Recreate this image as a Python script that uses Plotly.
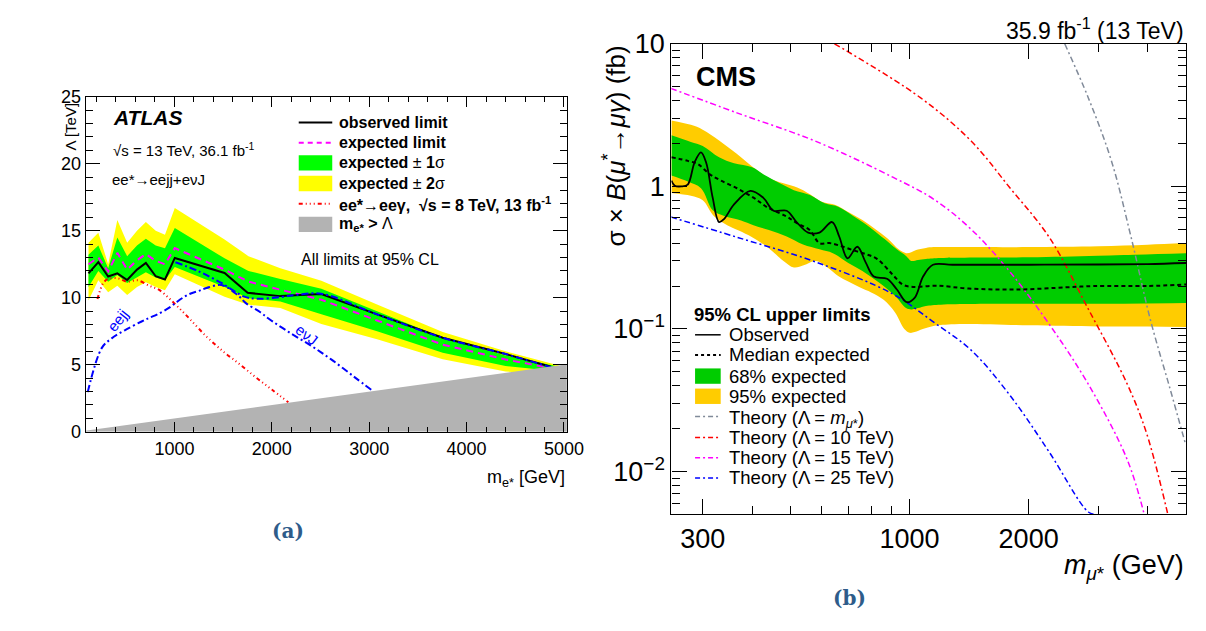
import plotly.graph_objects as go

W, H = 1206, 631
def px(x): return x / W
def py(y): return 1 - y / H

# ---------------- Left panel (ATLAS e*) ----------------
atl_obs_x = [118, 219, 320, 414, 515, 616, 707, 808, 903, 1004, 1515, 1752, 2088, 2509, 3081, 3755, 4400, 4866]
atl_obs_y = [11.82, 12.66, 11.58, 11.82, 11.32, 12.1, 12.6, 11.6, 11.36, 12.97, 11.85, 10.37, 10.12, 10.27, 8.76, 7.02, 5.8, 4.85]
atl_exp_x = [118, 219, 320, 414, 515, 616, 707, 808, 903, 1004, 1515, 1760, 2088, 2509, 3081, 3755, 4400, 4900]
atl_exp_y = [12.5, 13.0, 11.95, 13.35, 12.1, 12.8, 13.25, 12.75, 12.5, 13.7, 12.1, 11.2, 10.6, 9.85, 8.3, 6.5, 5.4, 4.7]
atl_band_x = [118, 219, 320, 414, 515, 616, 707, 808, 903, 1004, 1515, 1760, 2088, 2509, 3081, 3755, 4400, 4950]
atl_2s_up = [14.1, 14.85, 12.5, 15.8, 14.1, 15.0, 15.65, 15.0, 14.7, 16.7, 14.35, 13.1, 12.2, 11.27, 9.5, 7.45, 6.0, 4.95]
atl_1s_up = [13.2, 13.9, 12.2, 14.5, 13.1, 13.9, 14.4, 13.9, 13.7, 15.2, 12.94, 12.0, 11.4, 10.67, 9.0, 7.02, 5.7, 4.85]
atl_1s_lo = [10.8, 12.0, 11.2, 11.7, 11.1, 11.5, 11.9, 11.5, 11.3, 12.3, 10.8, 9.96, 9.72, 8.76, 7.5, 5.9, 4.9, 4.5]
atl_2s_lo = [9.8, 11.3, 10.4, 10.9, 10.2, 10.8, 11.15, 10.8, 10.55, 11.75, 10.08, 9.48, 9.24, 8.04, 6.9, 5.42, 4.5, 4.25]
atl_8tev_x = [210, 270, 320, 420, 510, 620, 740, 840, 940, 1010, 1080, 1160, 1330, 1500, 1660, 1830, 2000, 2170]
atl_8tev_y = [9.9, 11.1, 11.4, 11.45, 11.2, 11.3, 10.9, 10.6, 10.0, 9.5, 9.0, 8.4, 7.1, 6.0, 5.1, 4.1, 3.15, 2.2]
atl_eejj_x = [110, 255, 356, 490, 658, 741, 826, 943, 1010, 1078, 1161, 1246, 1329, 1482, 1650, 1734, 1886, 1966, 2172, 2408, 2610, 2846, 3040]
atl_eejj_y = [2.96, 6.26, 6.97, 7.57, 8.21, 8.5, 8.76, 9.24, 9.6, 9.96, 10.3, 10.5, 10.72, 10.95, 10.2, 9.6, 8.9, 8.45, 7.45, 6.4, 5.4, 4.1, 3.03]
atl_evj_x = [1010, 1246, 1482, 1717, 1852, 2088, 2250, 2509, 3081, 3755, 4400, 4866]
atl_evj_y = [12.65, 11.98, 11.1, 10.08, 9.92, 10.05, 10.2, 10.3, 8.76, 7.02, 5.8, 4.82]
atl_excl_x = [0, 5030, 5030]
atl_excl_y = [0, 5.03, 0]
atl_xticks = [1000, 2000, 3000, 4000, 5000]
atl_yticks = [0, 5, 10, 15, 20, 25]

# ---------------- Right panel (CMS mu*) ----------------
cms_obs_x = [250, 255, 265, 275, 286, 297, 306, 318, 330, 340, 360, 396, 427, 453, 489, 518, 554, 592, 637, 664, 697, 738, 774, 812, 877, 929, 984, 1031, 1082, 1146, 1285, 2000, 3000, 4000, 5000]
cms_obs_y = [1.10, 1.01, 1.0, 1.03, 1.47, 1.73, 1.47, 0.83, 0.562, 0.592, 0.748, 0.93, 0.83, 0.675, 0.675, 0.562, 0.474, 0.474, 0.562, 0.445, 0.313, 0.377, 0.294, 0.233, 0.225, 0.189, 0.154, 0.166, 0.233, 0.282, 0.282, 0.282, 0.283, 0.285, 0.29]
cms_exp_x = [250, 275, 292, 312, 333, 366, 404, 438, 489, 518, 559, 592, 627, 664, 717, 774, 827, 908, 960, 1021, 1168, 1412, 1882, 2507, 2931, 4000, 5000]
cms_exp_y = [1.60, 1.51, 1.43, 1.22, 1.10, 0.97, 0.83, 0.71, 0.614, 0.554, 0.494, 0.40, 0.40, 0.385, 0.358, 0.335, 0.31, 0.239, 0.205, 0.197, 0.201, 0.192, 0.189, 0.196, 0.20, 0.20, 0.205]
cms_2s_up_x = [250, 280, 300, 330, 365, 400, 440, 480, 520, 560, 600, 650, 700, 760, 820, 880, 940, 980, 1010, 1050, 1100, 1150, 1300, 2000, 3000, 4000, 5000]
cms_2s_up_y = [2.9, 2.7, 2.5, 2.1, 1.7, 1.38, 1.15, 1.05, 0.98, 0.88, 0.78, 0.74, 0.66, 0.58, 0.5, 0.43, 0.36, 0.34, 0.345, 0.36, 0.37, 0.375, 0.375, 0.375, 0.38, 0.39, 0.4]
cms_2s_lo_x = [250, 280, 300, 320, 340, 370, 400, 440, 480, 510, 540, 580, 620, 660, 700, 750, 800, 860, 920, 970, 1000, 1030, 1080, 1150, 1300, 2000, 3000, 4000, 5000]
cms_2s_lo_y = [0.90, 0.86, 0.80, 0.62, 0.55, 0.49, 0.44, 0.37, 0.30, 0.27, 0.28, 0.30, 0.27, 0.235, 0.215, 0.195, 0.18, 0.16, 0.13, 0.10, 0.094, 0.095, 0.100, 0.105, 0.108, 0.106, 0.104, 0.104, 0.103]
cms_1s_up_x = [250, 280, 300, 330, 360, 400, 430, 470, 510, 560, 610, 660, 720, 770, 820, 880, 930, 980, 1010, 1050, 1100, 1200, 2000, 3000, 5000]
cms_1s_up_y = [2.28, 2.05, 1.92, 1.6, 1.45, 1.36, 1.2, 1.05, 0.94, 0.87, 0.76, 0.72, 0.62, 0.55, 0.48, 0.41, 0.36, 0.325, 0.30, 0.305, 0.31, 0.315, 0.318, 0.326, 0.34]
cms_1s_lo_x = [250, 275, 297, 318, 340, 375, 403, 441, 489, 538, 592, 640, 700, 760, 820, 880, 930, 980, 1010, 1050, 1100, 1200, 2000, 3000, 5000]
cms_1s_lo_y = [1.19, 1.08, 0.97, 0.68, 0.62, 0.577, 0.534, 0.494, 0.445, 0.391, 0.362, 0.34, 0.29, 0.255, 0.22, 0.19, 0.165, 0.14, 0.137, 0.14, 0.145, 0.148, 0.15, 0.15, 0.152]
th_m_x = [2468, 2830, 3243, 3631, 4066, 4550, 4990]
th_m_y = [10, 4.19, 1.49, 0.44, 0.115, 0.0385, 0.0154]
th_10_x = [646, 1065, 1431, 1797, 2254, 2830, 3551, 3975, 4505]
th_10_y = [10, 4.19, 2.08, 0.97, 0.44, 0.138, 0.041, 0.0185, 0.0049]
th_15_x = [249, 366, 577, 907, 1153, 1431, 1797, 2254, 2830, 3551, 3927]
th_15_y = [4.87, 3.28, 2.08, 1.16, 0.81, 0.50, 0.25, 0.108, 0.041, 0.0121, 0.0049]
th_25_x = [249, 366, 577, 907, 1153, 1431, 1797, 2254, 2830, 2958]
th_25_y = [0.61, 0.44, 0.296, 0.176, 0.111, 0.071, 0.034, 0.0137, 0.0052, 0.005]
cms_xticks = [300, 1000, 2000]
cms_xminor = [400, 500, 600, 700, 800, 900, 3000, 4000, 5000]
cms_yticks = [0.01, 0.1, 1, 10]
cms_yticktext = ["10<sup>\u22122</sup>", "10<sup>\u22121</sup>", "1", "10"]
cms_yminor = [0.006, 0.007, 0.008, 0.009, 0.02, 0.03, 0.04, 0.05, 0.06, 0.07, 0.08, 0.09,
              0.2, 0.3, 0.4, 0.5, 0.6, 0.7, 0.8, 0.9, 2, 3, 4, 5, 6, 7, 8, 9]

GREEN_A, YELLOW_A, GREY = "#00ff00", "#ffff00", "#b3b3b3"
GREEN_C, YELLOW_C = "#00cc00", "#ffcc00"
FONT = "Liberation Sans, Arial, sans-serif"

fig = go.Figure()
L = dict(xaxis="x", yaxis="y", showlegend=False, hoverinfo="skip")
R = dict(xaxis="x2", yaxis="y2", showlegend=False, hoverinfo="skip")

# left bands
fig.add_trace(go.Scatter(x=atl_band_x, y=atl_2s_lo, mode="lines", line=dict(width=0), **L))
fig.add_trace(go.Scatter(x=atl_band_x, y=atl_2s_up, mode="lines", line=dict(width=0), fill="tonexty", fillcolor=YELLOW_A, **L))
fig.add_trace(go.Scatter(x=atl_band_x, y=atl_1s_lo, mode="lines", line=dict(width=0), **L))
fig.add_trace(go.Scatter(x=atl_band_x, y=atl_1s_up, mode="lines", line=dict(width=0), fill="tonexty", fillcolor=GREEN_A, **L))
fig.add_trace(go.Scatter(x=atl_8tev_x, y=atl_8tev_y, mode="lines", line=dict(color="red", width=2, dash="4px,3px,1px,3px,1px,3px,1px,3px", shape="spline"), **L))
fig.add_trace(go.Scatter(x=atl_eejj_x, y=atl_eejj_y, mode="lines", line=dict(color="blue", width=2, dash="7px,3px,2px,3px", shape="spline"), **L))
fig.add_trace(go.Scatter(x=atl_exp_x, y=atl_exp_y, mode="lines", line=dict(color="#ff00ff", width=2, dash="7px,5px"), **L))
fig.add_trace(go.Scatter(x=atl_obs_x, y=atl_obs_y, mode="lines", line=dict(color="black", width=2), **L))
fig.add_trace(go.Scatter(x=atl_evj_x, y=atl_evj_y, mode="lines", line=dict(color="blue", width=2, dash="7px,3px,2px,3px", shape="spline"), **L))
fig.add_trace(go.Scatter(x=atl_excl_x, y=atl_excl_y, mode="lines", line=dict(width=0), fill="toself", fillcolor=GREY, **L))

# right bands
fig.add_trace(go.Scatter(x=cms_2s_lo_x, y=cms_2s_lo_y, mode="lines", line=dict(width=0, shape="spline"), **R))
fig.add_trace(go.Scatter(x=cms_2s_up_x, y=cms_2s_up_y, mode="lines", line=dict(width=0, shape="spline"), fill="tonexty", fillcolor=YELLOW_C, **R))
fig.add_trace(go.Scatter(x=cms_1s_lo_x, y=cms_1s_lo_y, mode="lines", line=dict(width=0, shape="spline"), **R))
fig.add_trace(go.Scatter(x=cms_1s_up_x, y=cms_1s_up_y, mode="lines", line=dict(width=0, shape="spline"), fill="tonexty", fillcolor=GREEN_C, **R))
TH_DASH = "6px,3px,2px,3px"
fig.add_trace(go.Scatter(x=th_m_x, y=th_m_y, mode="lines", line=dict(color="#808a99", width=1.5, dash=TH_DASH, shape="spline"), **R))
fig.add_trace(go.Scatter(x=th_10_x, y=th_10_y, mode="lines", line=dict(color="red", width=1.5, dash=TH_DASH, shape="spline"), **R))
fig.add_trace(go.Scatter(x=th_15_x, y=th_15_y, mode="lines", line=dict(color="#ff00ff", width=1.5, dash=TH_DASH, shape="spline"), **R))
fig.add_trace(go.Scatter(x=th_25_x, y=th_25_y, mode="lines", line=dict(color="blue", width=1.5, dash=TH_DASH, shape="spline"), **R))
fig.add_trace(go.Scatter(x=cms_exp_x, y=cms_exp_y, mode="lines", line=dict(color="black", width=2, dash="4px,3px", shape="spline"), **R))
fig.add_trace(go.Scatter(x=cms_obs_x, y=cms_obs_y, mode="lines", line=dict(color="black", width=1.8, shape="spline"), **R))

ax_common = dict(showline=True, linecolor="black", linewidth=1.2, mirror="ticks", ticks="inside",
                 tickcolor="black", showgrid=False, zeroline=False)

shapes, annos = [], []
def txt(x, y, s, size, xanchor="left", yanchor="middle", color="black", angle=0, family=FONT):
    annos.append(dict(xref="paper", yref="paper", x=px(x), y=py(y), text=s, showarrow=False,
                      xanchor=xanchor, yanchor=yanchor, textangle=angle,
                      font=dict(size=size, color=color, family=family)))
def hline(x0, x1, y, color, dash="solid", width=2):
    shapes.append(dict(type="line", xref="paper", yref="paper", x0=px(x0), x1=px(x1), y0=py(y), y1=py(y),
                       line=dict(color=color, width=width, dash=dash)))
def box(x0, x1, y0, y1, color):
    shapes.append(dict(type="rect", xref="paper", yref="paper", x0=px(x0), x1=px(x1), y0=py(y1), y1=py(y0),
                       fillcolor=color, line=dict(width=0)))

# left texts
txt(113, 107, "<b><i>ATLAS</i></b>", 21)
txt(113, 140, "\u221as = 13 TeV, 36.1 fb<sup>-1</sup>", 15)
txt(112, 171, "ee*\u2192eejj+e\u03bdJ", 15)
rows = [112, 133, 154, 175.5, 196.5, 218]
hline(303, 337, rows[0], "black")
hline(303, 337, rows[1], "#ff00ff", dash="5px,4px")
box(303, 337, rows[2] - 8, rows[2] + 8, GREEN_A)
box(303, 337, rows[3] - 8, rows[3] + 8, YELLOW_A)
hline(303, 337, rows[4], "red", dash="4px,3px,1px,3px,1px,3px,1px,3px")
box(303, 337, rows[5] - 8, rows[5] + 8, GREY)
labels_a = ["<b>observed limit</b>", "<b>expected limit</b>", "<b>expected</b> \u00b1 <b>1</b>\u03c3",
            "<b>expected</b> \u00b1 <b>2</b>\u03c3", "<b>ee*\u2192ee\u03b3,  \u221as = 8 TeV, 13 fb<sup>-1</sup></b>",
            "<b>m<sub>e*</sub> ></b> \u039b"]
for r, s in zip(rows, labels_a):
    txt(342, r, s, 16)
txt(303, 255, "All limits at 95% CL", 16)
txt(119, 318, "eejj", 15, xanchor="center", color="blue", angle=-52)
txt(311, 333, "e\u03bdJ", 15, xanchor="center", color="blue", angle=38)
txt(71, 89, "\u039b [TeV]", 15, xanchor="center", yanchor="top", angle=-90)
txt(575, 483, "m<sub>e*</sub> [GeV]", 18, xanchor="right")
txt(292, 537, "<b>(a)</b>", 20, xanchor="center", color="#2e5c8a", family="DejaVu Serif, serif")

# right texts
txt(1203, 15, "35.9 fb<sup>-1</sup> (13 TeV)", 23, xanchor="right")
txt(704, 65, "<b>CMS</b>", 27)
txt(623, 30, "\u03c3 \u00d7 <i>B</i>(<i>\u03bc</i><sup>*</sup>\u2192<i>\u03bc\u03b3</i>) (fb)", 26, xanchor="center", yanchor="top", angle=-90)
txt(1203, 575, "<i>m</i><sub><i>\u03bc</i>*</sub> (GeV)", 27, xanchor="right")
txt(862, 607, "<b>(b)</b>", 20, xanchor="center", color="#2e5c8a", family="DejaVu Serif, serif")
r_rows = [312, 333, 354, 376, 397, 418, 440, 461, 482]
txt(702, r_rows[0], "<b>95% CL upper limits</b>", 18.5)
hline(705, 731, r_rows[1], "black", width=1.5)
hline(705, 731, r_rows[2], "black", dash="3px,3px", width=2)
box(705, 731, r_rows[3] - 8, r_rows[3] + 8, GREEN_C)
box(705, 731, r_rows[4] - 8, r_rows[4] + 8, YELLOW_C)
hline(705, 731, r_rows[5], "#808a99", dash="5px,3px,2px,3px", width=1.5)
hline(705, 731, r_rows[6], "red", dash="5px,3px,2px,3px", width=1.5)
hline(705, 731, r_rows[7], "#ff00ff", dash="5px,3px,2px,3px", width=1.5)
hline(705, 731, r_rows[8], "blue", dash="5px,3px,2px,3px", width=1.5)
labels_b = ["Observed", "Median expected", "68% expected", "95% expected",
            "Theory (\u039b = <i>m</i><sub><i>\u03bc</i>*</sub>)", "Theory (\u039b = 10 TeV)",
            "Theory (\u039b = 15 TeV)", "Theory (\u039b = 25 TeV)"]
for r, s in zip(r_rows[1:], labels_b):
    if "<sub>" in s:
        txt(737, r - 11.5, s, 18.5, yanchor="top")
    else:
        txt(737, r, s, 18.5)

fig.update_layout(
    width=W, height=H, margin=dict(l=0, r=0, t=0, b=0),
    paper_bgcolor="white", plot_bgcolor="white",
    font=dict(family=FONT, color="black"),
    xaxis=dict(domain=[px(87), px(575)], anchor="y", range=[90, 5030], tickvals=atl_xticks,
               ticklen=10, tickfont=dict(size=18),
               minor=dict(tickmode="linear", tick0=0, dtick=200, ticklen=5, ticks="inside", tickcolor="black"),
               **ax_common),
    yaxis=dict(domain=[py(434), py(85)], anchor="x", range=[0, 25], tickvals=atl_yticks,
               ticklen=14, tickfont=dict(size=18),
               minor=dict(tickmode="linear", tick0=0, dtick=1, ticklen=7, ticks="inside", tickcolor="black"),
               **ax_common),
    xaxis2=dict(domain=[px(681), px(1203)], anchor="y2", type="log", range=[2.39794, 3.69897],
                tickvals=cms_xticks, ticktext=[str(v) for v in cms_xticks], ticklen=15,
                tickfont=dict(size=27),
                minor=dict(tickvals=cms_xminor, ticklen=8, ticks="inside", tickcolor="black"),
                **ax_common),
    yaxis2=dict(domain=[py(520), py(30)], anchor="x2", type="log", range=[-2.30103, 1],
                tickvals=cms_yticks, ticktext=cms_yticktext, ticklen=15, tickfont=dict(size=27),
                minor=dict(tickvals=cms_yminor, ticklen=8, ticks="inside", tickcolor="black"),
                **ax_common),
    shapes=shapes, annotations=annos,
)
fig.write_html("out.html")
